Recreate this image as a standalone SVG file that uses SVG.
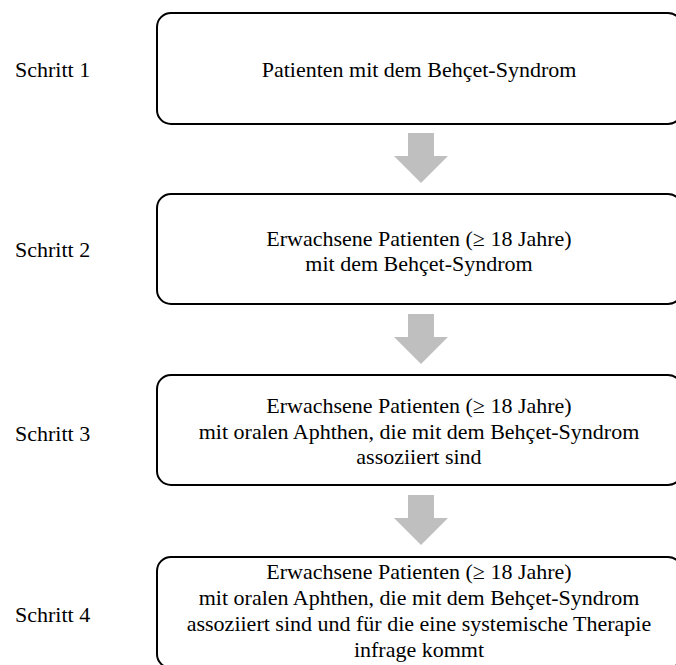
<svg xmlns="http://www.w3.org/2000/svg" width="676" height="665" viewBox="0 0 676 665">
<defs>
<style>
.box{fill:#fff;stroke:#000;stroke-width:2}
.t{font-family:'Liberation Serif','Times New Roman',Times,serif;font-size:22px;fill:#000}
.c{text-anchor:middle}
.arr{fill:#bfbfbf}
</style>
<path id="dn" class="arr" d="M0,0 h26 v23 h14 l-27,27 l-27,-27 h14 z"/>
</defs>
<rect width="676" height="665" fill="#fff"/>
<g id="labels">
<text class="t" x="15" y="77">Schritt 1</text>
<text class="t" x="15" y="257">Schritt 2</text>
<text class="t" x="15" y="441">Schritt 3</text>
<text class="t" x="15" y="622">Schritt 4</text>
</g>
<g id="connectors">
<use href="#dn" x="408" y="133"/>
<use href="#dn" x="408" y="314"/>
<use href="#dn" x="408" y="495"/>
</g>
<g id="step1">
<rect class="box" x="157" y="13" width="525" height="111" rx="14"/>
<text class="t c" x="419" y="77">Patienten mit dem Behçet-Syndrom</text>
</g>
<g id="step2">
<rect class="box" x="157" y="194" width="525" height="110" rx="14"/>
<text class="t c" x="419" y="246">Erwachsene Patienten (≥ 18 Jahre)</text>
<text class="t c" x="419" y="271">mit dem Behçet-Syndrom</text>
</g>
<g id="step3">
<rect class="box" x="157" y="375" width="525" height="110" rx="14"/>
<text class="t c" x="419" y="413">Erwachsene Patienten (≥ 18 Jahre)</text>
<text class="t c" x="419" y="438.5">mit oralen Aphthen, die mit dem Behçet-Syndrom</text>
<text class="t c" x="419" y="464">assoziiert sind</text>
</g>
<g id="step4">
<rect class="box" x="157" y="557" width="525" height="111" rx="14"/>
<text class="t c" x="419" y="579">Erwachsene Patienten (≥ 18 Jahre)</text>
<text class="t c" x="419" y="605">mit oralen Aphthen, die mit dem Behçet-Syndrom</text>
<text class="t c" x="419" y="631">assoziiert sind und für die eine systemische Therapie</text>
<text class="t c" x="419" y="657">infrage kommt</text>
</g>
</svg>
